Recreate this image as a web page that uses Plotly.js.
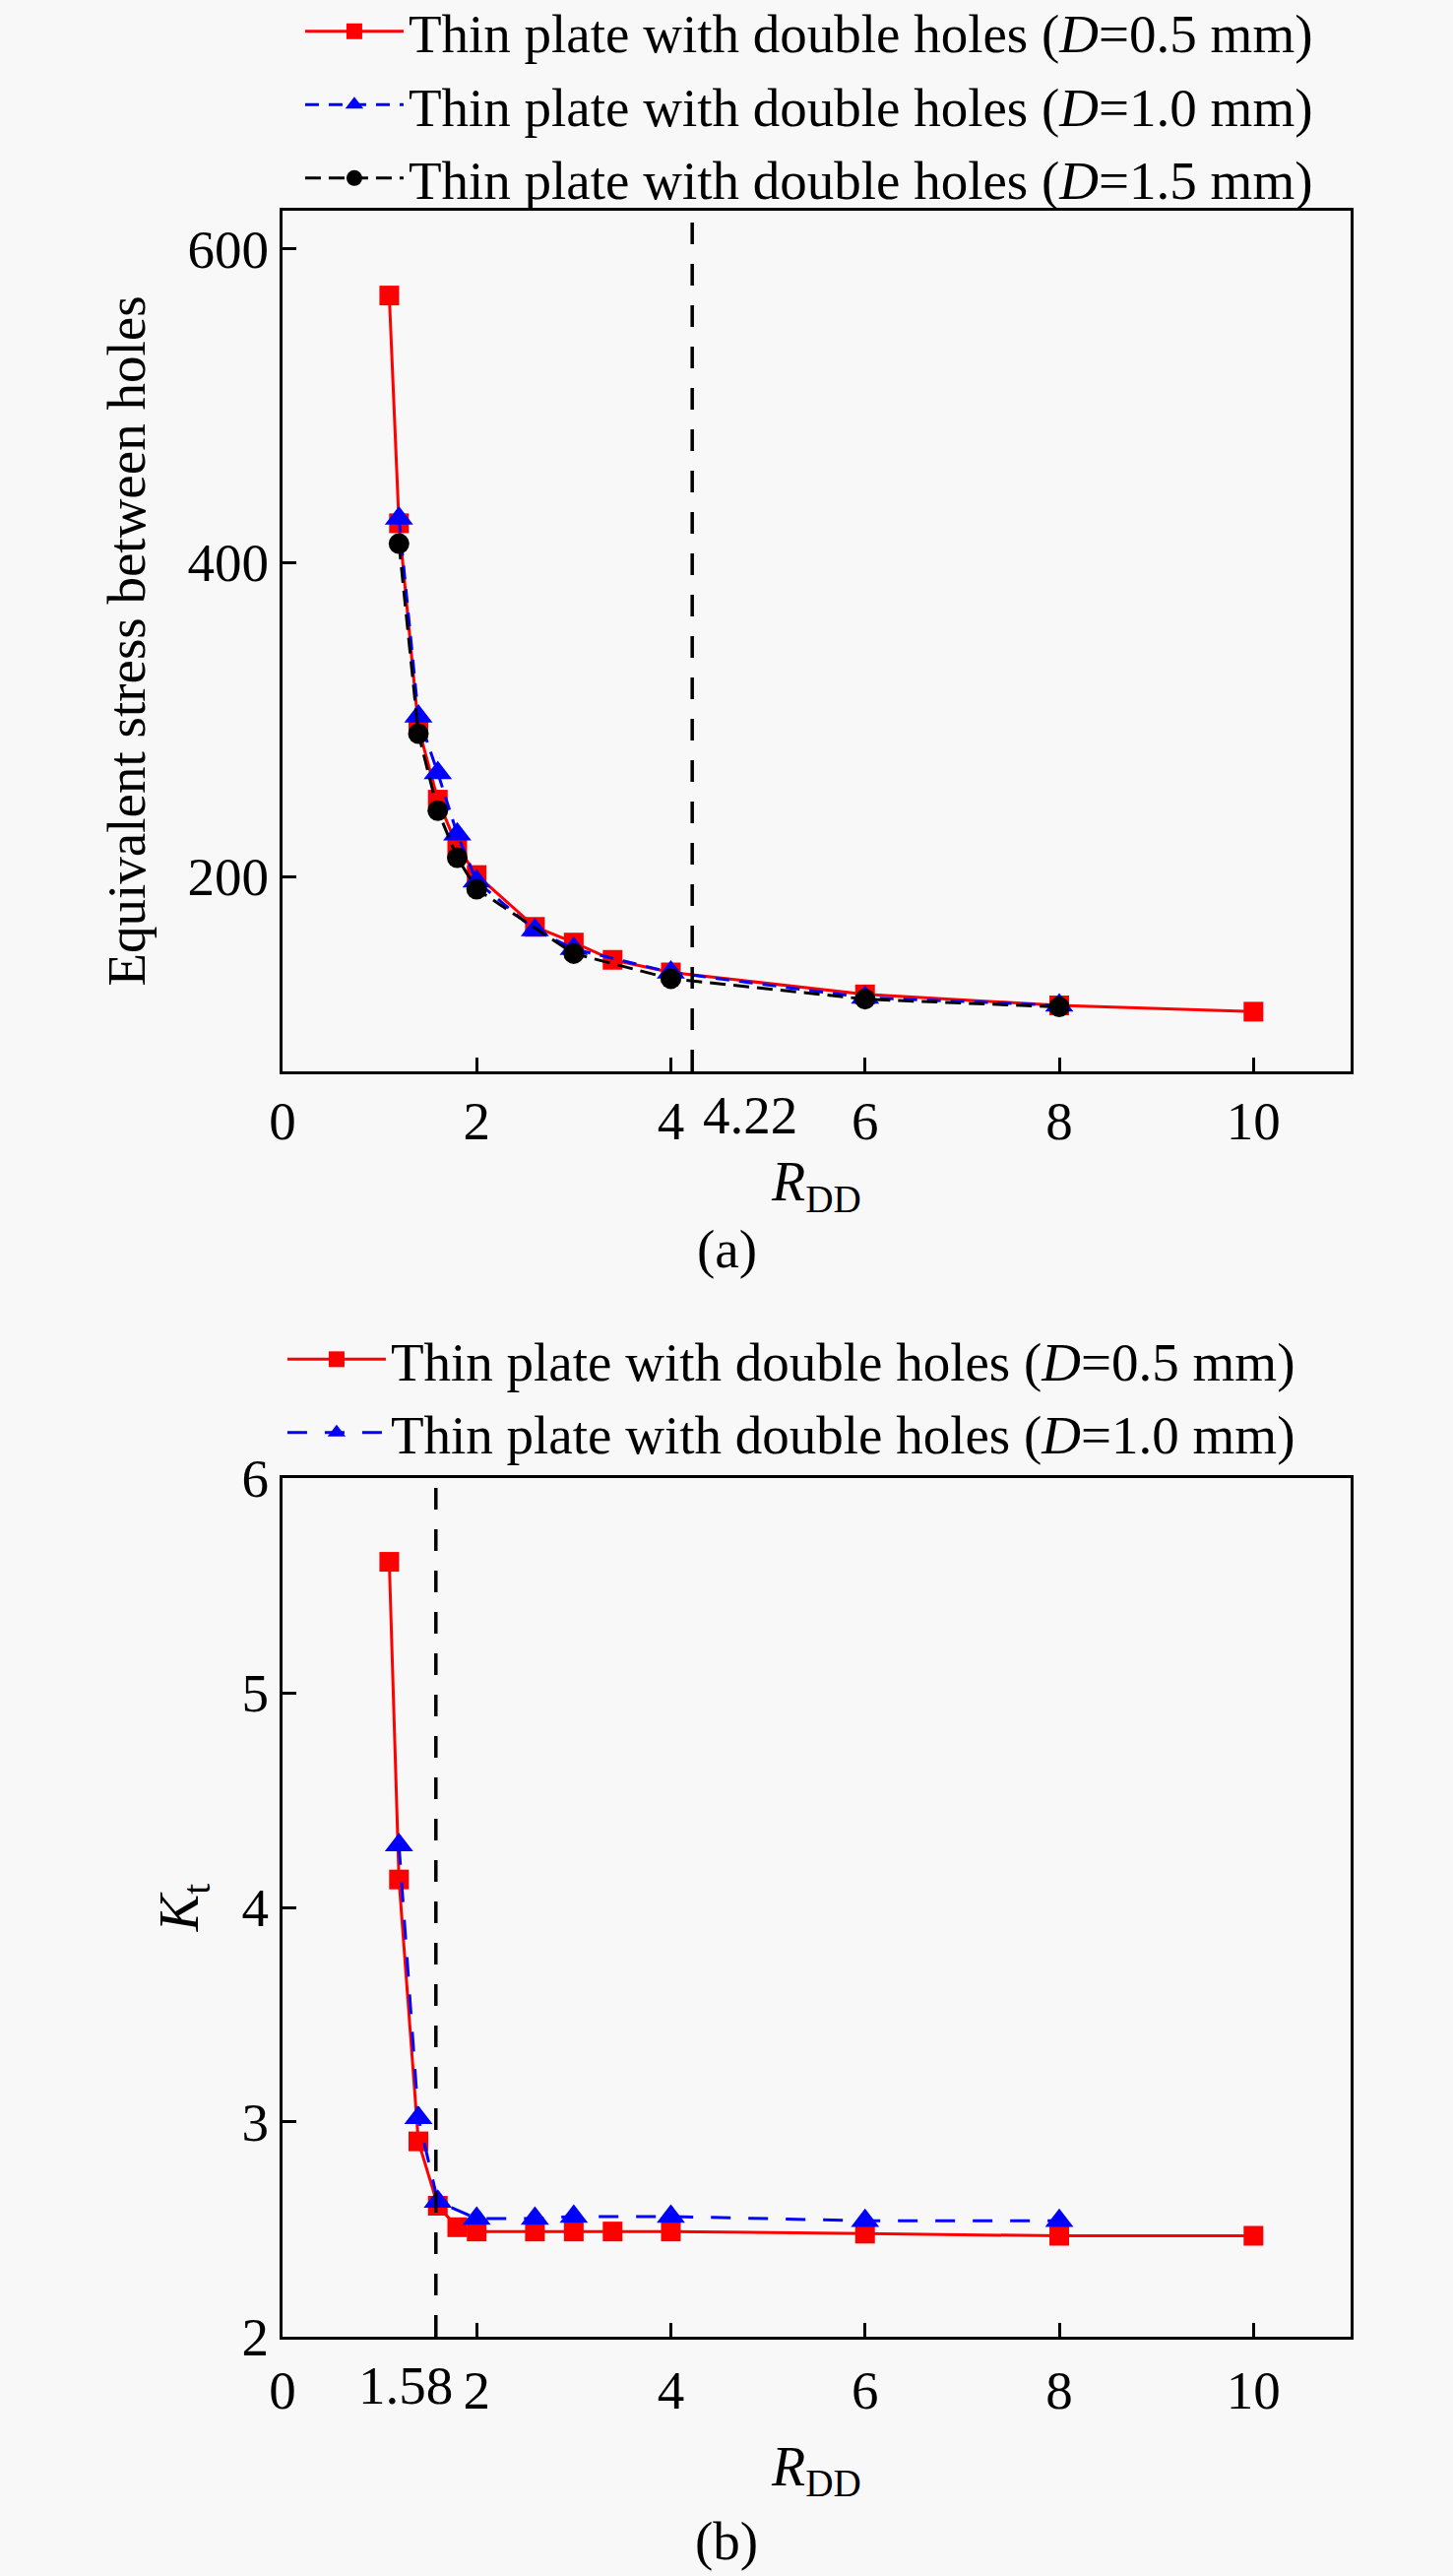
<!DOCTYPE html>
<html>
<head>
<meta charset="utf-8">
<script src="https://cdn.plot.ly/plotly-3.0.1.min.js"></script>
<style>
  html, body { margin: 0; padding: 0; background: #f8f8f8; }
  #myDiv { width: 1476px; height: 2616px; }
</style>
</head>
<body>
<div id="myDiv"></div>
<script>
// panel (a): equivalent stress between holes vs R_DD
var xRedA = [1.1, 1.2, 1.4, 1.6, 1.8, 2.0, 2.6, 3.0, 3.4, 4.0, 6.0, 8.0, 10.0]
var yRedA = [570, 425, 295, 249, 219, 201, 168, 158, 147, 139, 125, 118, 114]
var xBlueA = [1.2, 1.4, 1.6, 1.8, 2.0, 2.6, 3.0, 4.0, 6.0, 8.0]
var yBlueA = [428, 302, 266, 227, 197, 166, 154, 139, 123, 118]
var xBlackA = [1.2, 1.4, 1.6, 1.8, 2.0, 3.0, 4.0, 6.0, 8.0]
var yBlackA = [412, 291, 242, 212, 192, 151, 135, 122, 117]

// panel (b): Kt vs R_DD
var xRedB = [1.1, 1.2, 1.4, 1.6, 1.8, 2.0, 2.6, 3.0, 3.4, 4.0, 6.0, 8.0, 10.0]
var yRedB = [5.61, 4.13, 2.91, 2.61, 2.51, 2.49, 2.49, 2.49, 2.49, 2.49, 2.48, 2.47, 2.47]
var xBlueB = [1.2, 1.4, 1.6, 2.0, 2.6, 3.0, 4.0, 6.0, 8.0]
var yBlueB = [4.29, 3.02, 2.63, 2.55, 2.55, 2.56, 2.56, 2.54, 2.54]

var names = [
  'Thin plate with double holes (<i>D</i>=0.5 mm)',
  'Thin plate with double holes (<i>D</i>=1.0 mm)',
  'Thin plate with double holes (<i>D</i>=1.5 mm)'
]

// tick values and labels
var xTicks = [0, 2, 4, 6, 8, 10]
var xTickText = ['0', '2', '4', '6', '8', '10']
var yTicksA = [200, 400, 600]
var yTicksB = [2, 3, 4, 5, 6]
var markA = 4.22
var markB = 1.58

var FONT = 'Liberation Serif, Times New Roman, serif'
var FS = 55

var trace1 = {
  x: xRedA, y: yRedA, name: names[0], type: 'scatter', mode: 'lines+markers',
  line: {color: '#ff0000', width: 3},
  marker: {symbol: 'square', size: 20, color: '#ff0000'},
  xaxis: 'x', yaxis: 'y', legend: 'legend'
}
var trace2 = {
  x: xBlueA, y: yBlueA, name: names[1], type: 'scatter', mode: 'lines+markers',
  line: {color: '#0000ff', width: 3, dash: '14px,10px'},
  marker: {symbol: 'triangle-up', size: 25, color: '#0000ff'},
  xaxis: 'x', yaxis: 'y', legend: 'legend'
}
var trace3 = {
  x: xBlackA, y: yBlackA, name: names[2], type: 'scatter', mode: 'lines+markers',
  line: {color: '#000000', width: 3, dash: '16px,8px'},
  marker: {symbol: 'circle', size: 21, color: '#000000'},
  xaxis: 'x', yaxis: 'y', legend: 'legend'
}
var trace4 = {
  x: xRedB, y: yRedB, name: names[0], type: 'scatter', mode: 'lines+markers',
  line: {color: '#ff0000', width: 3},
  marker: {symbol: 'square', size: 20, color: '#ff0000'},
  xaxis: 'x2', yaxis: 'y2', legend: 'legend2'
}
var trace5 = {
  x: xBlueB, y: yBlueB, name: names[1], type: 'scatter', mode: 'lines+markers',
  line: {color: '#0000ff', width: 3, dash: '20px,18px'},
  marker: {symbol: 'triangle-up', size: 25, color: '#0000ff'},
  xaxis: 'x2', yaxis: 'y2', legend: 'legend2'
}

var data = [trace1, trace2, trace3, trace4, trace5]

function xax(anchor) {
  return {
    anchor: anchor, domain: [0.1944, 0.9295], range: [0, 11],
    tickvals: xTicks, ticktext: xTickText,
    ticks: 'inside', ticklen: 14, tickwidth: 2.5, tickcolor: '#000',
    showline: true, linewidth: 3, linecolor: '#000', mirror: true,
    showgrid: false, zeroline: false,
    tickfont: {family: FONT, size: FS, color: '#000'}
  }
}
function yax(anchor, dom, rng, vals) {
  return {
    anchor: anchor, domain: dom, range: rng, tickvals: vals,
    ticks: 'inside', ticklen: 14, tickwidth: 2.5, tickcolor: '#000',
    showline: true, linewidth: 3, linecolor: '#000', mirror: true,
    showgrid: false, zeroline: false,
    tickfont: {family: FONT, size: FS, color: '#000'}
  }
}

var xaxis = xax('y')
xaxis.title = {text: '<i>R</i><sub>DD</sub>', font: {family: FONT, size: 56, color: '#000'}, standoff: 2}
var xaxis2 = xax('y2')
xaxis2.ticklabelstandoff = 4
xaxis2.title = {text: '<i>R</i><sub>DD</sub>', font: {family: FONT, size: 56, color: '#000'}, standoff: 28}

var yaxis = yax('x', [0.5841, 0.9182], [76, 624], yTicksA)
yaxis.title = {text: 'Equivalent stress between holes', font: {family: FONT, size: FS, color: '#000'}, standoff: 26}
var yaxis2 = yax('x2', [0.0929, 0.4262], [2, 6], yTicksB)
yaxis2.title = {text: '<i>K</i><sub>t</sub>', font: {family: FONT, size: 56, color: '#000'}, standoff: 26}

var layout = {
  width: 1476, height: 2616,
  margin: {l: 0, r: 0, t: 0, b: 0, autoexpand: false},
  paper_bgcolor: '#f8f8f8', plot_bgcolor: '#f8f8f8',
  font: {family: FONT, color: '#000'},
  xaxis: xaxis, yaxis: yaxis, xaxis2: xaxis2, yaxis2: yaxis2,
  legend: {
    x: 0.2066, y: 1.004, xanchor: 'left', yanchor: 'top',
    bgcolor: 'rgba(0,0,0,0)', font: {family: FONT, size: FS, color: '#000'},
    itemwidth: 100, tracegroupgap: 0
  },
  legend2: {
    x: 0.1944, y: 0.4885, xanchor: 'left', yanchor: 'top',
    bgcolor: 'rgba(0,0,0,0)', font: {family: FONT, size: FS, color: '#000'},
    itemwidth: 100, tracegroupgap: 0
  },
  shapes: [
    {type: 'line', xref: 'x', yref: 'y domain', x0: markA, x1: markA, y0: 0, y1: 1,
     line: {color: '#000', width: 3.5, dash: '22px,20px'}},
    {type: 'line', xref: 'x2', yref: 'y2 domain', x0: markB, x1: markB, y0: 0, y1: 1,
     line: {color: '#000', width: 3.5, dash: '22px,20px'}}
  ],
  annotations: [
    {x: markA, xref: 'x', y: 0, yref: 'y domain', yanchor: 'middle', xshift: 59, yshift: -45,
     text: String(markA), showarrow: false, font: {family: FONT, size: FS, color: '#000'}},
    {x: markB, xref: 'x2', y: 0, yref: 'y2 domain', yanchor: 'middle', xshift: -31, yshift: -50,
     text: String(markB), showarrow: false, font: {family: FONT, size: FS, color: '#000'}},
    {x: 0.5, xref: 'paper', y: 1 - 1268 / 2616, yref: 'paper', yanchor: 'middle', text: '(a)',
     showarrow: false, font: {family: FONT, size: FS, color: '#000'}},
    {x: 0.5, xref: 'paper', y: 1 - 2580 / 2616, yref: 'paper', yanchor: 'middle', text: '(b)',
     showarrow: false, font: {family: FONT, size: FS, color: '#000'}}
  ]
}

Plotly.newPlot('myDiv', data, layout, {displayModeBar: false});
</script>
</body>
</html>
